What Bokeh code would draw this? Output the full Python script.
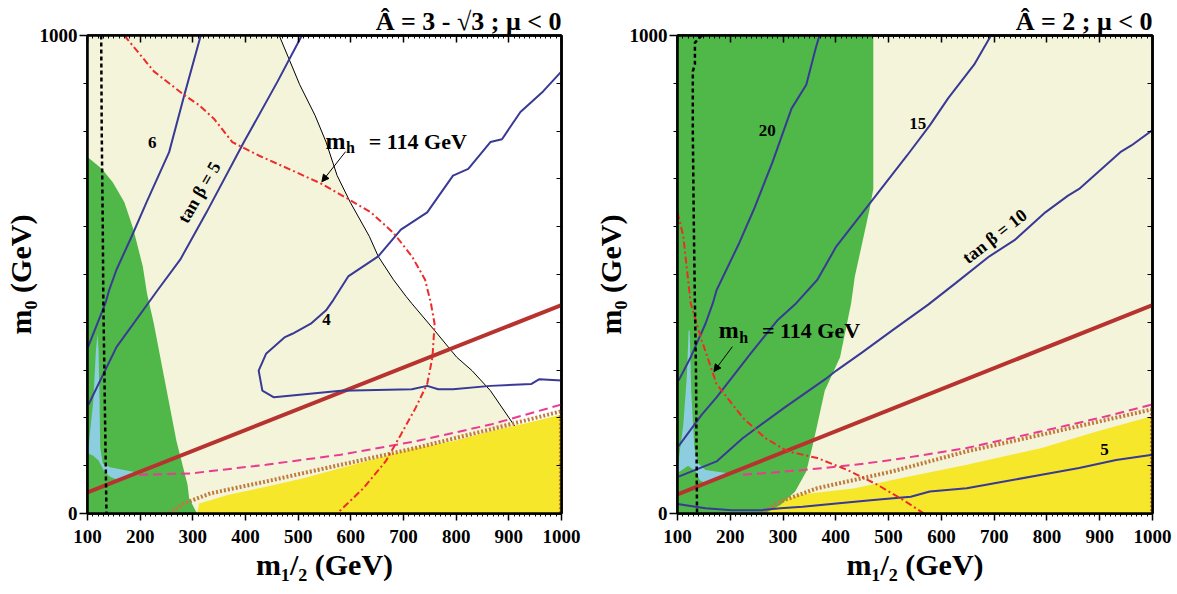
from math import radians
from bokeh.plotting import figure
from bokeh.layouts import row
from bokeh.models import (Range1d, LinearAxis, FixedTicker, CustomJSTickFormatter,
                          Label, Arrow, NormalHead)
from bokeh.embed import file_html
from bokeh.resources import INLINE

FONT = "Liberation Serif"
BEIGE = "#F4F4DA"
GREEN = "#4FB848"
YELLOW = "#F7E72B"
LBLUE = "#8DCDE0"
NAVY = "#393996"
BRICK = "#B7332F"
PINK = "#EA3A92"
BROWN = "#C07A3C"
RED = "#EE2B2B"

X_TICKS = list(range(100, 1001, 100))
X_MINOR = list(range(100, 1001, 10))
Y_TICKS = [0, 1000]
Y_MINOR = list(range(100, 1000, 100))

X_TITLE = "m₁/₂ (GeV)"
Y_TITLE = "m₀ (GeV)"

# ---------------- left panel: A = 3 - sqrt(3), mu < 0 ----------------
l_title = "Â = 3 - √3 ; μ < 0"

# edge of the allowed (beige) region
l_edge_x = [464, 503, 532, 553, 574, 599, 635, 652, 681, 705, 716, 759, 801, 830, 865, 911]
l_edge_y = [1000, 897, 833, 777, 707, 651, 580, 538, 489, 454, 439, 383, 327, 299, 257, 183]

l_yellow_x = [308, 312, 368, 439, 510, 581, 652, 723, 794, 865, 936, 1000]
l_yellow_y = [0, 21, 39, 56, 74, 95, 116, 137, 151, 172, 190, 207]

l_green_x = [100, 127, 148, 170, 187, 205, 213, 226, 248, 269, 290, 293, 308]
l_green_y = [746, 721, 693, 651, 595, 517, 460, 397, 271, 151, 60, 32, 0]

l_lblue_x = [102, 111, 116, 119, 121, 123, 124, 129, 143, 174, 202, 180, 158, 143, 133, 121, 111, 102]
l_lblue_y = [139, 236, 341, 376, 341, 236, 139, 104, 97, 90, 84, 76, 70, 77, 86, 111, 121, 125]

l_tb6_x = [101, 134, 141, 155, 184, 212, 255, 285, 315]
l_tb6_y = [348, 440, 467, 510, 580, 651, 756, 880, 1000]

l_tb5_x = [102, 155, 233, 276, 326, 397, 461, 507]
l_tb5_y = [228, 348, 467, 531, 630, 777, 904, 1000]

l_tb4_x = [1000, 958, 943, 865, 794, 766, 745, 716, 581, 454, 432, 425, 439, 475, 489, 524,
           553, 567, 595, 652, 695, 745, 794, 823, 865, 887, 922, 965, 1000]
l_tb4_y = [278, 281, 271, 267, 260, 260, 267, 260, 257, 243, 257, 299, 334, 369, 376, 397,
           425, 447, 496, 538, 594, 630, 707, 721, 777, 783, 840, 883, 925]

l_bsg_x = [100, 1000]
l_bsg_y = [44, 436]

l_gmu_x = [198, 297, 439, 581, 723, 865, 1000]
l_gmu_y = [81, 84, 102, 123, 151, 186, 228]

l_dot_x = [255, 283, 333, 439, 581, 723, 865, 1000]
l_dot_y = [0, 21, 42, 67, 102, 137, 176, 214]

l_mh_x = [170, 226, 283, 311, 340, 375, 425, 482, 546, 595, 638, 681, 716, 741, 752, 759,
          755, 745, 723, 695, 666, 624, 574]
l_mh_y = [1000, 925, 876, 855, 826, 777, 749, 721, 689, 658, 630, 587, 538, 489, 440, 397,
          327, 271, 221, 165, 109, 53, 0]

l_chi_x = [126, 127, 129, 130, 132, 134, 136]
l_chi_y = [1000, 800, 600, 450, 300, 150, 0]

# ---------------- right panel: A = 2, mu < 0 ----------------
r_title = "Â = 2 ; μ < 0"

r_yellow_x = [259, 273, 330, 436, 507, 648, 790, 896, 1000]
r_yellow_y = [0, 18, 39, 53, 70, 102, 137, 172, 204]

r_green_x = [471, 471, 464, 450, 436, 429, 408, 379, 358, 344, 323, 295, 266]
r_green_y = [1000, 679, 637, 566, 496, 440, 327, 257, 151, 88, 46, 18, 0]

r_lblue_x = [101, 111, 118, 121, 123, 126, 132, 139, 153, 196, 175, 153, 142, 135, 120, 101]
r_lblue_y = [102, 186, 292, 383, 383, 257, 137, 105, 91, 84, 75, 63, 70, 88, 100, 85]

r_tb20_x = [102, 125, 153, 167, 174, 217, 245, 280, 316, 344, 362, 369]
r_tb20_y = [278, 327, 397, 440, 467, 566, 637, 735, 847, 897, 974, 1000]

r_tb15_x = [102, 146, 174, 238, 290, 325, 365, 401, 471, 535, 578, 613, 662, 694]
r_tb15_y = [141, 207, 243, 334, 405, 440, 489, 559, 658, 749, 812, 869, 939, 1000]

r_tb10_x = [102, 174, 224, 302, 380, 401, 450, 507, 575, 627, 691, 740, 797, 840, 861, 939, 960, 1000]
r_tb10_y = [77, 109, 158, 221, 281, 299, 337, 383, 437, 482, 538, 573, 630, 665, 679, 756, 770, 802]

r_tb5_x = [100, 153, 203, 259, 295, 337, 401, 471, 542, 578, 648, 719, 790, 861, 931, 1000]
r_tb5_y = [20, 11, 7, 7, 11, 14, 21, 28, 35, 46, 53, 67, 81, 95, 112, 123]

r_bsg_x = [100, 1000]
r_bsg_y = [40, 436]

r_gmu_x = [224, 330, 436, 507, 648, 790, 900, 1000]
r_gmu_y = [81, 90, 102, 112, 137, 172, 200, 228]

r_dot_x = [259, 295, 365, 507, 648, 790, 1000]
r_dot_y = [0, 25, 53, 88, 130, 165, 218]

r_mh_x = [100, 111, 125, 146, 174, 224, 266, 309, 365, 422, 479, 528, 567]
r_mh_y = [630, 580, 440, 362, 271, 200, 158, 130, 116, 91, 60, 28, 0]

r_chi_x = [146, 133, 133, 129, 129, 131, 133, 135, 137]
r_chi_y = [1000, 985, 940, 925, 800, 600, 440, 300, 0]


def add_text(p, x, y, text, size, angle=0, align="left", baseline="alphabetic"):
    p.add_layout(Label(x=x, y=y, text=text, text_font=FONT, text_font_style="bold",
                       text_font_size=f"{size}px", angle=angle, text_align=align,
                       text_baseline=baseline, text_color="black"))


def empty_axis(ticker, tick_in, minor_in):
    return LinearAxis(ticker=ticker, formatter=CustomJSTickFormatter(code="return ''"),
                      major_tick_in=tick_in, major_tick_out=0, minor_tick_in=minor_in,
                      minor_tick_out=0, axis_line_width=2.5, major_tick_line_width=1.5,
                      minor_tick_line_width=1, major_label_standoff=0,
                      major_label_text_font_size="1px")


def make_panel(width, left, right, bg, title):
    p = figure(width=width, height=592, x_range=Range1d(100, 1000), y_range=Range1d(0, 1000),
               output_backend="svg", toolbar_location=None, title=title,
               min_border_left=left, min_border_right=right, min_border_top=35, min_border_bottom=79,
               background_fill_color=bg, border_fill_color="white")
    p.outline_line_color = "black"
    p.outline_line_width = 2.5
    p.xgrid.visible = False
    p.ygrid.visible = False

    p.title.align = "right"
    p.title.text_font = FONT
    p.title.text_font_style = "bold"
    p.title.text_font_size = "26px"
    p.title.text_color = "black"
    p.title.standoff = 0

    xa = p.xaxis[0]
    xa.ticker = FixedTicker(ticks=X_TICKS, minor_ticks=X_MINOR)
    xa.major_tick_out = 7
    xa.major_tick_in = 0
    xa.minor_tick_out = 3
    xa.minor_tick_in = 0
    xa.major_label_standoff = 9
    xa.axis_label = X_TITLE
    xa.axis_label_standoff = 2
    xa.axis_label_text_font_size = "30px"

    ya = p.yaxis[0]
    ya.ticker = FixedTicker(ticks=Y_TICKS, minor_ticks=Y_MINOR)
    ya.major_tick_out = 8
    ya.major_tick_in = 0
    ya.minor_tick_out = 4
    ya.minor_tick_in = 0
    ya.major_label_standoff = 2
    ya.axis_label = Y_TITLE
    ya.axis_label_standoff = 0
    ya.axis_label_text_font_size = "30px"

    for ax in (xa, ya):
        ax.axis_line_width = 2.5
        ax.major_tick_line_width = 1.5
        ax.minor_tick_line_width = 1
        ax.major_label_text_font = FONT
        ax.major_label_text_font_style = "bold"
        ax.major_label_text_font_size = "19px"
        ax.major_label_text_color = "black"
        ax.axis_label_text_font = FONT
        ax.axis_label_text_font_style = "bold"
        ax.axis_label_text_color = "black"

    p.add_layout(empty_axis(FixedTicker(ticks=X_TICKS, minor_ticks=X_MINOR), 7, 3), "above")
    p.add_layout(empty_axis(FixedTicker(ticks=Y_TICKS, minor_ticks=Y_MINOR), 0, 5), "right")
    return p


def mh_label(p, x0, y0, ax, ay, bx, by):
    add_text(p, x0, y0, "m", 24)
    add_text(p, x0 + 39, y0 - 14, "h", 16)
    add_text(p, x0 + 82, y0, "= 114 GeV", 22)
    p.add_layout(Arrow(end=NormalHead(size=7, fill_color="black", line_color="black", line_width=1),
                       x_start=ax, y_start=ay, x_end=bx, y_end=by, line_width=1, line_color="black"))


# ---------------- left ----------------
p1 = make_panel(590, 84, 29, "white", l_title)
p1.patch([100, 100] + l_edge_x + [l_edge_x[-1]], [0, 1000] + l_edge_y + [0],
         fill_color=BEIGE, line_color=None)
p1.patch(l_yellow_x + [1000], l_yellow_y + [0], fill_color=YELLOW, line_color=None)
p1.patch([100] + l_green_x, [0] + l_green_y, fill_color=GREEN, line_color=None)
p1.patch(l_lblue_x, l_lblue_y, fill_color=LBLUE, line_color=None)
p1.line(l_edge_x, l_edge_y, line_color="black", line_width=1)
p1.line(l_dot_x, l_dot_y, line_color=BROWN, line_width=4, line_dash="2 2")
p1.line([997, 997], [l_dot_y[-1], 0], line_color=BROWN, line_width=2, line_dash="2 2")
p1.line(l_gmu_x, l_gmu_y, line_color=PINK, line_width=2, line_dash="9 5")
p1.line(l_bsg_x, l_bsg_y, line_color=BRICK, line_width=4)
for xs, ys in ((l_tb6_x, l_tb6_y), (l_tb5_x, l_tb5_y), (l_tb4_x, l_tb4_y)):
    p1.line(xs, ys, line_color=NAVY, line_width=2)
p1.line(l_mh_x, l_mh_y, line_color=RED, line_width=2, line_dash="7 3 2 3")
p1.line(l_chi_x, l_chi_y, line_color="black", line_width=2.5, line_dash="4 3")

add_text(p1, 223, 777, "6", 17, align="center", baseline="middle")
add_text(p1, 312, 672, "tan β = 5", 18, angle=radians(60), align="center", baseline="middle")
add_text(p1, 554, 405, "4", 17, align="center", baseline="middle")
mh_label(p1, 552, 779, 590, 757, 545, 694)

# ---------------- right ----------------
p2 = make_panel(586, 84, 24, BEIGE, r_title)
p2.patch(r_yellow_x + [1000], r_yellow_y + [0], fill_color=YELLOW, line_color=None)
p2.patch([100, 100] + r_green_x, [0, 1000] + r_green_y, fill_color=GREEN, line_color=None)
p2.patch(r_lblue_x, r_lblue_y, fill_color=LBLUE, line_color=None)
p2.line(r_dot_x, r_dot_y, line_color=BROWN, line_width=4, line_dash="2 2")
p2.line([997, 997], [r_dot_y[-1], 0], line_color=BROWN, line_width=2, line_dash="2 2")
p2.line(r_gmu_x, r_gmu_y, line_color=PINK, line_width=2, line_dash="9 5")
p2.line(r_bsg_x, r_bsg_y, line_color=BRICK, line_width=4)
for xs, ys in ((r_tb20_x, r_tb20_y), (r_tb15_x, r_tb15_y), (r_tb10_x, r_tb10_y), (r_tb5_x, r_tb5_y)):
    p2.line(xs, ys, line_color=NAVY, line_width=2)
p2.line(r_mh_x, r_mh_y, line_color=RED, line_width=2, line_dash="7 3 2 3")
p2.line(r_chi_x, r_chi_y, line_color="black", line_width=2.5, line_dash="4 3")

add_text(p2, 270, 802, "20", 17, align="center", baseline="middle")
add_text(p2, 555, 816, "15", 17, align="center", baseline="middle")
add_text(p2, 701, 580, "tan β = 10", 18, angle=radians(38), align="center", baseline="middle")
add_text(p2, 909, 134, "5", 17, align="center", baseline="middle")
mh_label(p2, 178, 383, 204, 349, 169, 297)

layout = row(p1, p2)
open("out.html", "w").write(file_html(layout, INLINE))
